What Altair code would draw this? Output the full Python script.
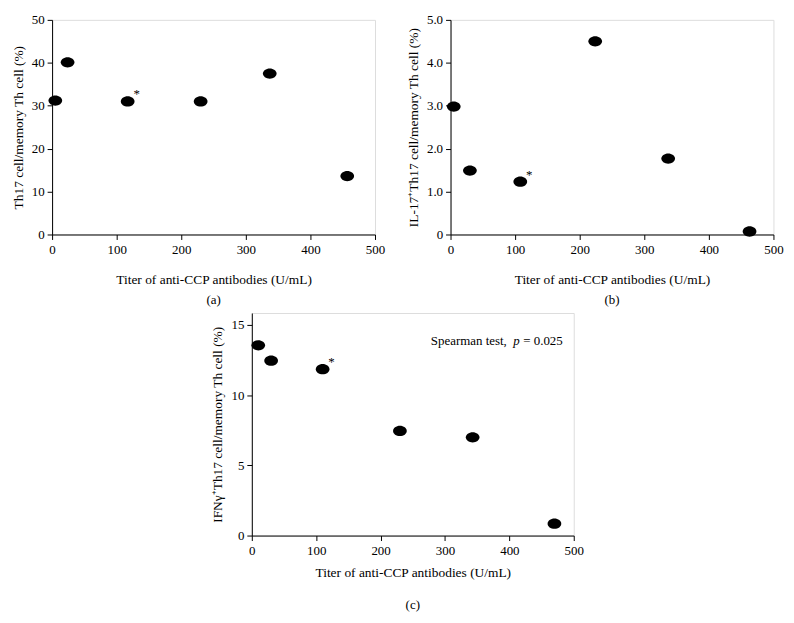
import altair as alt
import pandas as pd

# Panel (a)
a_x = [5, 24, 117, 230, 337, 457]
a_y = [31.2, 40.1, 31.0, 31.0, 37.5, 13.6]
# Panel (b)
b_x = [5, 30, 108, 224, 337, 463]
b_y = [2.98, 1.49, 1.23, 4.50, 1.77, 0.07]
# Panel (c)
c_x = [10, 30, 110, 230, 343, 470]
c_y = [13.55, 12.45, 11.85, 7.45, 7.00, 0.85]
# starred point index (same in each panel)
star_idx = 2

x_title = "Titer of anti-CCP antibodies (U/mL)"
y_titles = ["Th17 cell/memory Th cell (%)",
            "IL-17\u207aTh17 cell/memory Th cell (%)",
            "IFN\u03b3\u207aTh17 cell/memory Th cell (%)"]
captions = ["(a)", "(b)", "(c)"]
x_ticks = [0, 100, 200, 300, 400, 500]
a_ticks = [0, 10, 20, 30, 40, 50]
b_ticks = [0, 1, 2, 3, 4, 5]
c_ticks = [0, 5, 10, 15]

FONT = "Liberation Serif"
ELLIPSE = "M -1 0 A 1 0.75 0 1 0 1 0 A 1 0.75 0 1 0 -1 0 Z"
LAB = 13
TIT = 13.5


def panel(xs, ys, ytitle, yticks, ydomain, caption, w, h, ylabelexpr="datum.label",
          extra=None, xtpad=16, capoff=8):
    df = pd.DataFrame({"x": xs, "y": ys})
    yaxis = alt.Axis(values=yticks, title=ytitle, grid=False, domainColor="black",
                     tickColor="black", tickSize=5, labelFont=FONT, labelFontSize=LAB,
                     labelColor="black", titleFont=FONT, titleFontSize=TIT,
                     titleFontWeight="normal", titleColor="black", labelPadding=3,
                     titlePadding=6, labelExpr=ylabelexpr)
    xaxis = alt.Axis(values=x_ticks, title=x_title, grid=False, domainColor="black",
                     tickColor="black", tickSize=5, labelFont=FONT, labelFontSize=LAB,
                     labelColor="black", titleFont=FONT, titleFontSize=TIT,
                     titleFontWeight="normal", titleColor="black", labelPadding=4,
                     titlePadding=xtpad, labelFlush=False)
    base = alt.Chart(df)
    pts = base.mark_point(shape=ELLIPSE, size=190, filled=True, color="black", opacity=1).encode(
        x=alt.X("x:Q", scale=alt.Scale(domain=[0, 500], nice=False), axis=xaxis),
        y=alt.Y("y:Q", scale=alt.Scale(domain=ydomain, nice=False), axis=yaxis),
    )
    star = alt.Chart(df.iloc[[star_idx]]).mark_text(
        text="*", font=FONT, fontSize=13, dx=9, dy=-7, color="black", fill="black"
    ).encode(x="x:Q", y="y:Q")
    layers = [pts, star]
    if extra is not None:
        layers += extra
    return alt.layer(*layers).properties(
        width=w, height=h,
        title=alt.TitleParams(caption, orient="bottom", font=FONT, fontSize=13,
                              fontWeight="normal", color="black", offset=capoff),
    )


ann_df = pd.DataFrame({"x": [278], "y": [13.85]})
ann = [
    alt.Chart(ann_df).mark_text(text="Spearman test, ", font=FONT, fontSize=13,
                                align="left", color="black").encode(x="x:Q", y="y:Q"),
    alt.Chart(ann_df).mark_text(text="p", font=FONT, fontSize=13, fontStyle="italic",
                                align="left", dx=83, color="black").encode(x="x:Q", y="y:Q"),
    alt.Chart(ann_df).mark_text(text="= 0.025", font=FONT, fontSize=13,
                                align="left", dx=93, color="black").encode(x="x:Q", y="y:Q"),
]

pa = panel(a_x, a_y, y_titles[0], a_ticks, [0, 50], captions[0], 325, 216)
pb = panel(b_x, b_y, y_titles[1], b_ticks, [0, 5], captions[1], 325, 216,
           ylabelexpr="datum.value == 0 ? '0' : format(datum.value, '.1f')")
pc = panel(c_x, c_y, y_titles[2], c_ticks, [0, 15.85], captions[2], 324, 224,
           extra=ann, xtpad=8, capoff=20)

chart = alt.vconcat(
    alt.hconcat(pa, pb, spacing=20),
    pc,
    spacing=5,
    center=True,
).configure_view(stroke=None).configure(padding={"left": 2, "top": 3, "right": 2, "bottom": 2})

chart.save("out.html", embed_options={"renderer": "svg", "actions": False})
